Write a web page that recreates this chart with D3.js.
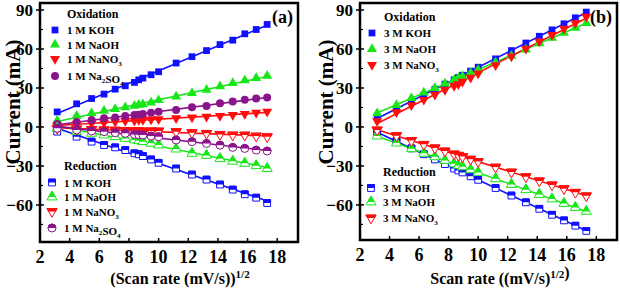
<!DOCTYPE html>
<html>
<head>
<meta charset="utf-8">
<script src="https://cdn.jsdelivr.net/npm/d3@7"></script>
<style>
  body { margin: 0; background: #fff; }
</style>
</head>
<body>
<div id="chart"></div>
<script>
// sqrt of scan rate, same for every series
const scanRoot = [3.16, 4.47, 5.48, 6.32, 7.07, 7.75, 8.37, 8.66, 8.94, 9.49, 10.0, 11.18, 12.25, 13.23, 14.14, 15.0, 15.81, 16.58, 17.32];

// panel (a), 1 M electrolytes
const aOxKOH    = [11.6, 17.8, 21.9, 25.3, 29.1, 31.7, 34.3, 36.3, 37.6, 40.2, 42.5, 49.2, 54.1, 58.8, 63.4, 66.8, 71.7, 75.0, 78.9];
const aOxNaOH   = [4.9, 8.5, 10.6, 12.4, 13.7, 15.2, 16.2, 17.0, 17.5, 18.8, 20.6, 23.4, 26.0, 28.6, 31.2, 33.8, 35.8, 37.6, 39.4];
const aOxNaNO3  = [1.0, 2.1, 2.8, 3.3, 4.1, 4.6, 4.9, 5.4, 5.4, 5.9, 6.1, 6.7, 7.4, 7.9, 8.5, 9.2, 10.0, 11.0, 11.8];
const aOxNa2SO4 = [2.3, 3.9, 5.4, 6.7, 7.4, 8.5, 9.2, 9.5, 10.0, 11.0, 11.8, 13.1, 15.2, 16.2, 18.3, 19.6, 20.9, 21.9, 22.7];
const aRedKOH    = [-3.6, -7.5, -11.3, -13.9, -15.7, -17.8, -20.3, -21.0, -22.4, -25.0, -27.6, -32.0, -36.6, -40.5, -44.3, -48.2, -51.8, -54.4, -58.5];
const aRedNaOH   = [-1.0, -3.6, -4.9, -6.2, -7.5, -8.8, -10.0, -10.6, -11.3, -12.6, -13.9, -17.0, -20.3, -21.9, -24.4, -26.4, -28.0, -29.8, -32.0];
const aRedNaNO3  = [-1.0, -1.5, -1.9, -2.2, -2.4, -2.7, -2.9, -3.0, -3.1, -3.0, -3.1, -3.6, -4.4, -4.9, -5.7, -6.2, -6.2, -7.0, -7.5];
const aRedNa2SO4 = [-1.0, -2.3, -3.1, -3.6, -4.4, -4.9, -5.7, -6.0, -6.2, -7.0, -7.5, -10.0, -11.3, -12.7, -14.0, -15.7, -16.5, -17.8, -18.5];

// panel (b), 3 M electrolytes
const bOxKOH   = [7.5, 13.8, 19.6, 24.4, 29.0, 33.0, 36.2, 38.0, 39.8, 43.0, 46.0, 52.4, 58.8, 64.6, 69.8, 74.7, 79.4, 84.0, 88.4];
const bOxNaOH  = [10.5, 16.9, 22.3, 26.4, 30.0, 33.4, 36.3, 37.6, 39.0, 41.5, 44.0, 49.8, 54.8, 59.6, 64.3, 68.5, 72.4, 76.3, 79.9];
const bOxNaNO3 = [4.5, 11.3, 16.8, 20.9, 24.8, 28.5, 31.6, 33.0, 34.8, 38.0, 41.2, 47.6, 54.3, 60.2, 65.8, 70.8, 75.6, 80.0, 84.8];
const bRedKOH   = [-4.5, -11.0, -16.5, -21.0, -25.0, -28.6, -32.0, -33.5, -35.0, -38.0, -40.7, -47.0, -52.8, -58.0, -63.0, -67.6, -71.9, -76.0, -80.0];
const bRedNaOH  = [-7.0, -12.4, -16.8, -20.3, -23.0, -25.8, -28.4, -29.6, -30.7, -33.0, -35.0, -39.9, -44.3, -48.3, -52.0, -55.5, -58.9, -62.0, -65.0];
const bRedNaNO3 = [-2.3, -6.7, -10.4, -13.4, -16.1, -18.5, -20.8, -21.8, -22.8, -24.8, -26.6, -30.9, -34.7, -38.3, -41.5, -44.6, -47.5, -50.3, -53.0];

const xTicks = [2, 4, 6, 8, 10, 12, 14, 16, 18];
const yTicks = [-60, -30, 0, 30, 60, 90];

const BLUE = "#1010ff", GREEN = "#19e619", RED = "#ff0d0d", PURPLE = "#8b148b";

const W = 620, H = 288;
const svg = d3.select("#chart").append("svg")
    .attr("width", W).attr("height", H)
    .style("display", "block")
    .attr("font-family", "'Liberation Serif', 'Times New Roman', 'DejaVu Serif', serif")
    .attr("font-weight", "bold");

// clip keeps only the top half of a marker (for half-filled reduction markers)
svg.append("defs").append("clipPath")
    .attr("id", "topHalf")
    .append("rect").attr("x", -10).attr("y", -10).attr("width", 20).attr("height", 10);

const shapes = {
    square: { type: d3.symbolSquare, size: 46, rot: 0 },
    up:     { type: d3.symbolTriangle, size: 44, rot: 0 },
    down:   { type: d3.symbolTriangle, size: 44, rot: 180 },
    circle: { type: d3.symbolCircle, size: 50, rot: 0 }
};

// one marker at (x, y); half=true → open marker with top half filled
function marker(g, shape, color, x, y, half) {
    const s = shapes[shape];
    const path = d3.symbol().type(s.type).size(s.size)();
    const t = `translate(${x},${y}) rotate(${s.rot})`;
    if (!half) {
        g.append("path").attr("d", path).attr("transform", t).attr("fill", color);
        return;
    }
    g.append("path").attr("d", path).attr("transform", t)
        .attr("fill", "#fff").attr("stroke", color).attr("stroke-width", 1);
    // clip in unrotated frame so the top is always the filled half
    const gg = g.append("g").attr("transform", `translate(${x},${y})`)
        .attr("clip-path", "url(#topHalf)");
    gg.append("path").attr("d", path).attr("transform", `rotate(${s.rot})`)
        .attr("fill", color).attr("stroke", color).attr("stroke-width", 1);
}

// least squares line
function fit(xs, ys) {
    const mx = d3.mean(xs), my = d3.mean(ys);
    let num = 0, den = 0;
    xs.forEach((x, i) => { num += (x - mx) * (ys[i] - my); den += (x - mx) * (x - mx); });
    const b = num / den;
    return x => my + b * (x - mx);
}

// text with subscript digits handled via tspans
function richText(sel, parts, baseSize) {
    parts.forEach(p => {
        if (p.sub) {
            sel.append("tspan").attr("dy", 3).style("font-size", (baseSize * 0.65) + "px").text(p.sub);
            sel.append("tspan").attr("dy", -3).text("");
        } else {
            sel.append("tspan").text(p.t);
        }
    });
}

function drawPanel(cfg) {
    const x = d3.scaleLinear().domain([2, 19.4]).range([cfg.left, cfg.right]);
    const y = d3.scaleLinear().domain(cfg.yDomain).range([cfg.bottom, cfg.top]);
    const g = svg.append("g");

    // minor y ticks
    const minorY = d3.range(-75, 91, 15).filter(v => v % 30 !== 0);
    g.selectAll(".ym").data(minorY).join("line")
        .attr("x1", cfg.left).attr("x2", cfg.left + 3)
        .attr("y1", d => y(d)).attr("y2", d => y(d))
        .attr("stroke", "#000").attr("stroke-width", 1.2);
    // major y ticks
    g.selectAll(".yt").data(yTicks).join("line")
        .attr("x1", cfg.left - 4).attr("x2", cfg.left + 4)
        .attr("y1", d => y(d)).attr("y2", d => y(d))
        .attr("stroke", "#000").attr("stroke-width", 1.5);
    g.selectAll(".yl").data(yTicks).join("text")
        .attr("x", cfg.left - 7).attr("y", d => y(d) + 6)
        .attr("text-anchor", "end").style("font-size", "17px")
        .text(d => d < 0 ? "\u2212" + Math.abs(d) : d);
    // x ticks
    g.selectAll(".xt").data(xTicks).join("line")
        .attr("x1", d => x(d)).attr("x2", d => x(d))
        .attr("y1", cfg.bottom).attr("y2", cfg.bottom - 4)
        .attr("stroke", "#000").attr("stroke-width", 1.5);
    g.selectAll(".xl").data(xTicks).join("text")
        .attr("x", d => x(d)).attr("y", cfg.bottom + 21)
        .attr("text-anchor", "middle").style("font-size", "18px")
        .text(d => d);

    // series: fit lines then markers
    cfg.series.forEach(s => {
        const f = fit(scanRoot, s.values);
        const x0 = scanRoot[0], x1 = scanRoot[scanRoot.length - 1];
        g.append("line")
            .attr("x1", x(x0)).attr("y1", y(f(x0)))
            .attr("x2", x(x1)).attr("y2", y(f(x1)))
            .attr("stroke", s.color).attr("stroke-width", 1.6);
    });
    cfg.series.forEach(s => {
        s.values.forEach((v, i) => marker(g, s.shape, s.color, x(scanRoot[i]), y(v), s.half));
    });

    // frame
    g.append("rect")
        .attr("x", cfg.left).attr("y", cfg.top)
        .attr("width", cfg.right - cfg.left).attr("height", cfg.bottom - cfg.top)
        .attr("fill", "none").attr("stroke", "#000").attr("stroke-width", 2.5);

    // panel tag
    g.append("text").attr("x", cfg.right - 5).attr("y", cfg.top + 20)
        .attr("text-anchor", "end").style("font-size", "18px").text(cfg.tag);

    // legends
    cfg.legends.forEach(L => {
        g.append("text").attr("x", L.x + 12).attr("y", L.y + 4)
            .style("font-size", "12px").text(L.title);
        L.items.forEach((it, i) => {
            const yy = L.y + L.rows[i];
            marker(g, it.shape, it.color, L.x, yy, it.half);
            const t = g.append("text").attr("x", L.x + 12).attr("y", yy + 4)
                .style("font-size", "11px");
            richText(t, it.label, 11);
        });
    });

    // axis titles
    g.append("text")
        .attr("transform", `translate(${cfg.yTitleX},102) rotate(-90)`)
        .attr("text-anchor", "middle").style("font-size", "21px")
        .text("Current (mA)");
    const xt = g.append("text")
        .attr("x", cfg.xTitleX).attr("y", cfg.xTitleY)
        .attr("text-anchor", "middle").style("font-size", "16px");
    cfg.xTitle.forEach(p => {
        if (p.sup) {
            xt.append("tspan").attr("dy", -6).style("font-size", "11px").text(p.sup);
            xt.append("tspan").attr("dy", 6).text("");
        } else xt.append("tspan").text(p.t);
    });
}

drawPanel({
    left: 40, right: 298, top: 3, bottom: 242, yDomain: [-88.5, 95.4], tag: "(a)",
    yTitleX: 20, xTitleX: 180, xTitleY: 284,
    xTitle: [{ t: "(Scan rate (mV/s))" }, { sup: "1/2" }],
    series: [
        { values: aOxKOH, color: BLUE, shape: "square" },
        { values: aOxNaOH, color: GREEN, shape: "up" },
        { values: aOxNaNO3, color: RED, shape: "down" },
        { values: aOxNa2SO4, color: PURPLE, shape: "circle" },
        { values: aRedKOH, color: BLUE, shape: "square", half: true },
        { values: aRedNaOH, color: GREEN, shape: "up", half: true },
        { values: aRedNaNO3, color: RED, shape: "down", half: true },
        { values: aRedNa2SO4, color: PURPLE, shape: "circle", half: true }
    ],
    legends: [
        { title: "Oxidation", x: 55, y: 14, rows: [16, 30.5, 45, 62],
          items: [
            { shape: "square", color: BLUE, label: [{ t: "1 M KOH" }] },
            { shape: "up", color: GREEN, label: [{ t: "1 M NaOH" }] },
            { shape: "down", color: RED, label: [{ t: "1 M NaNO" }, { sub: "3" }] },
            { shape: "circle", color: PURPLE, label: [{ t: "1 M Na" }, { sub: "2" }, { t: "SO" }, { sub: "4" }] }
          ] },
        { title: "Reduction", x: 52, y: 166, rows: [16.5, 31, 45.5, 62],
          items: [
            { shape: "square", color: BLUE, half: true, label: [{ t: "1 M KOH" }] },
            { shape: "up", color: GREEN, half: true, label: [{ t: "1 M NaOH" }] },
            { shape: "down", color: RED, half: true, label: [{ t: "1 M NaNO" }, { sub: "3" }] },
            { shape: "circle", color: PURPLE, half: true, label: [{ t: "1 M Na" }, { sub: "2" }, { t: "SO" }, { sub: "4" }] }
          ] }
    ]
});

drawPanel({
    left: 360, right: 617, top: 3, bottom: 240, yDomain: [-87, 95.4], tag: "(b)",
    yTitleX: 333, xTitleX: 500, xTitleY: 284,
    xTitle: [{ t: "Scan rate ((mV/s)" }, { sup: "1/2" }, { t: ")" }],
    series: [
        { values: bOxKOH, color: BLUE, shape: "square" },
        { values: bOxNaOH, color: GREEN, shape: "up" },
        { values: bOxNaNO3, color: RED, shape: "down" },
        { values: bRedKOH, color: BLUE, shape: "square", half: true },
        { values: bRedNaOH, color: GREEN, shape: "up", half: true },
        { values: bRedNaNO3, color: RED, shape: "down", half: true }
    ],
    legends: [
        { title: "Oxidation", x: 372, y: 17, rows: [16, 32, 48],
          items: [
            { shape: "square", color: BLUE, label: [{ t: "3 M KOH" }] },
            { shape: "up", color: GREEN, label: [{ t: "3 M NaOH" }] },
            { shape: "down", color: RED, label: [{ t: "3 M NaNO" }, { sub: "3" }] }
          ] },
        { title: "Reduction", x: 371, y: 172, rows: [16, 30, 46],
          items: [
            { shape: "square", color: BLUE, half: true, label: [{ t: "3 M KOH" }] },
            { shape: "up", color: GREEN, half: true, label: [{ t: "3 M NaOH" }] },
            { shape: "down", color: RED, half: true, label: [{ t: "3 M NaNO" }, { sub: "3" }] }
          ] }
    ]
});
</script>
</body>
</html>
